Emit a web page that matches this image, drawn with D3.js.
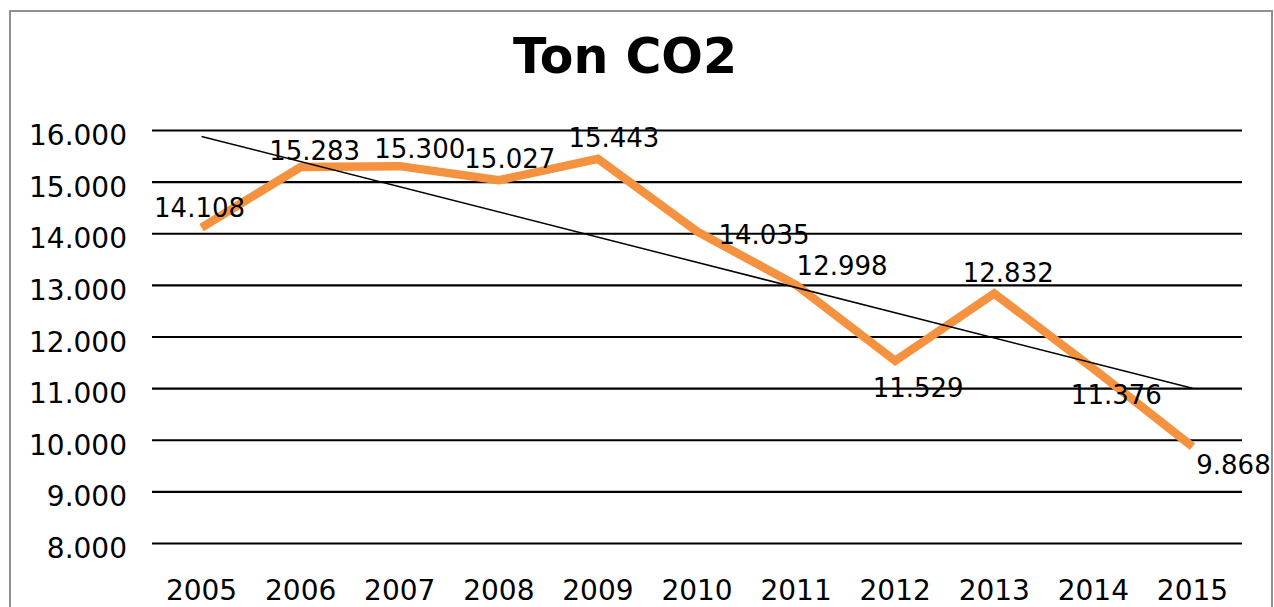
<!DOCTYPE html>
<html>
<head>
<meta charset="utf-8">
<script src="https://cdn.jsdelivr.net/npm/d3@7"></script>
<style>
html,body{margin:0;padding:0;background:#fff;}
svg{display:block;font-family:"DejaVu Sans",Verdana,sans-serif;}
</style>
</head>
<body>
<svg id="chart" width="1274" height="607"></svg>
<script>
const title = "Ton CO2";
const years = ["2005","2006","2007","2008","2009","2010","2011","2012","2013","2014","2015"];
const values = [14108, 15283, 15300, 15027, 15443, 14035, 12998, 11529, 12832, 11376, 9868];
const yTicks = [8000, 9000, 10000, 11000, 12000, 13000, 14000, 15000, 16000];
// label placement offsets (px) relative to each point
const labelDx = [-2, 14, 20, 11, 16, 67, 46, 23, 14, 23, 41];
const labelDy = [-11, -7, -8, -12, -12, 13, -10, 36, -12, 35, 27];

(function () {
const svg = d3.select("#chart");
const pLeft = 152, pRight = 1242, pTop = 130, pBottom = 543;

const fmt = v => d3.format(",")(v).replace(/,/g, ".");
const fmtTick = v => d3.format(",.0f")(v).replace(/,/g, ".");

// frame
svg.append("rect").attr("x", 10).attr("y", 11).attr("width", 1262).attr("height", 620)
  .attr("fill", "#fff").attr("stroke", "#909090").attr("stroke-width", 2);

const x = d3.scaleBand().domain(years).range([pLeft, pRight]);
const y = d3.scaleLinear().domain([8000, 16000]).range([pBottom, pTop]);
const cx = d => x(d) + x.bandwidth() / 2;

// gridlines + y labels
const yAxis = d3.axisLeft(y).tickValues(yTicks).tickSize(-(pRight - pLeft)).tickFormat(fmtTick).tickPadding(25);
const gy = svg.append("g").attr("transform", `translate(${pLeft},0)`).call(yAxis);
gy.select(".domain").remove();
gy.selectAll(".tick line").attr("stroke", "#000").attr("stroke-width", 2.2);
gy.selectAll(".tick text").attr("font-size", 28).attr("fill", "#000").attr("dy", "0.52em")
  .attr("font-family", "DejaVu Sans, Verdana, sans-serif");

// x axis labels
const xAxis = d3.axisBottom(x).tickSize(0).tickPadding(0);
const gx = svg.append("g").attr("transform", `translate(0,${pBottom})`).call(xAxis);
gx.select(".domain").remove();
gx.selectAll(".tick text").attr("font-size", 28).attr("fill", "#000").attr("dy", 0).attr("y", 57)
  .attr("font-family", "DejaVu Sans, Verdana, sans-serif");

// title
svg.append("text").attr("x", 625).attr("y", 73).attr("text-anchor", "middle")
  .attr("font-size", 49).attr("font-weight", "bold").attr("fill", "#000").text(title);

// data line
const line = d3.line().x((d, i) => cx(years[i])).y(d => y(d));
svg.append("path").datum(values).attr("d", line).attr("fill", "none")
  .attr("stroke", "#F59240").attr("stroke-width", 8.5).attr("stroke-linejoin", "miter");

// linear trend line (least squares from the data)
const n = values.length;
const xs = d3.range(n);
const mx = d3.mean(xs), my = d3.mean(values);
const slope = d3.sum(xs, i => (i - mx) * (values[i] - my)) / d3.sum(xs, i => (i - mx) ** 2);
const icpt = my - slope * mx;
svg.append("line")
  .attr("x1", cx(years[0])).attr("y1", y(icpt))
  .attr("x2", cx(years[n - 1])).attr("y2", y(icpt + slope * (n - 1)))
  .attr("stroke", "#000").attr("stroke-width", 1.5);

// data labels
svg.append("g").selectAll("text").data(values).join("text")
  .attr("x", (d, i) => cx(years[i]) + labelDx[i])
  .attr("y", (d, i) => y(d) + labelDy[i])
  .attr("text-anchor", "middle").attr("font-size", 26).attr("fill", "#000")
  .text(d => fmt(d));
})();
</script>
</body>
</html>
